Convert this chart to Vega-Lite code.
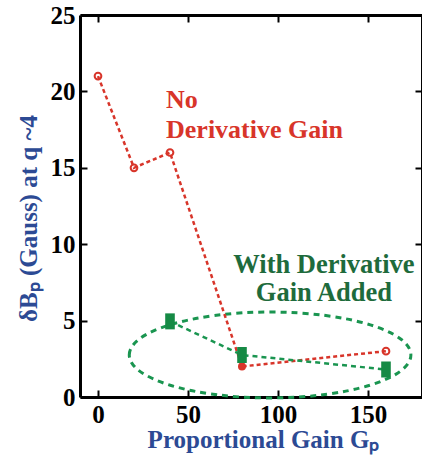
{
  "$schema": "https://vega.github.io/schema/vega-lite/v6.json",
  "width": 342,
  "height": 382,
  "autosize": "none",
  "padding": {"left": 80, "top": 15, "right": 0, "bottom": 64},
  "background": "white",
  "config": {
    "view": {"stroke": null},
    "axis": {
      "labelFont": "Liberation Serif",
      "labelFontWeight": "bold",
      "labelFontSize": 25,
      "labelColor": "black",
      "domainColor": "black",
      "domainWidth": 3,
      "tickColor": "black",
      "tickWidth": 2,
      "tickSize": -7,
      "labelPadding": 12,
      "grid": false,
      "titleFont": "Liberation Serif",
      "titleFontWeight": "bold",
      "titleFontSize": 25,
      "titleColor": "#2c4a94"
    }
  },
  "datasets": {
    "series": [
      {"gain": 0, "db": 21, "series": "No Derivative Gain"},
      {"gain": 20, "db": 15, "series": "No Derivative Gain"},
      {"gain": 40, "db": 16, "series": "No Derivative Gain"},
      {"gain": 80, "db": 2, "series": "No Derivative Gain"},
      {"gain": 160, "db": 3, "series": "No Derivative Gain"},
      {"gain": 40, "db": 4.95, "series": "With Derivative Gain Added"},
      {"gain": 80, "db": 2.75, "series": "With Derivative Gain Added"},
      {"gain": 160, "db": 1.8, "series": "With Derivative Gain Added"}
    ],
    "labels": [
      {"x": 37.8, "y": 18.9, "lines": ["No", "Derivative Gain"], "group": "red"},
      {"x": 125.5, "y": 8.1, "lines": ["With Derivative", "Gain Added"], "group": "green"}
    ],
    "ellipse": [{"x": 95.6, "y": 2.75}]
  },
  "resolve": {"axis": {"x": "independent", "y": "independent"}},
  "layer": [
    {
      "data": {"name": "ellipse"},
      "mark": {
        "type": "point",
        "shape": "M-1,0C-1,-0.168,-0.552,-0.305,0,-0.305C0.552,-0.305,1,-0.168,1,0C1,0.168,0.552,0.305,0,0.305C-0.552,0.305,-1,0.168,-1,0Z",
        "size": 79300,
        "filled": false,
        "stroke": "#1a9550",
        "strokeWidth": 3,
        "strokeDash": [6, 5],
        "opacity": 1
      },
      "encoding": {
        "x": {"field": "x", "type": "quantitative", "scale": {"domain": [-10, 180], "nice": false},
          "axis": {"orient": "top", "labels": false, "title": null, "values": [0, 50, 100, 150]}},
        "y": {"field": "y", "type": "quantitative", "scale": {"domain": [0, 25], "nice": false},
          "axis": {"orient": "right", "labels": false, "title": null, "values": [0, 5, 10, 15, 20, 25]}}
      }
    },
    {
      "data": {"name": "series"},
      "transform": [{"filter": "datum.series == 'No Derivative Gain'"}],
      "mark": {"type": "line", "color": "#d8352a", "strokeWidth": 2.5, "strokeDash": [4, 3]},
      "encoding": {
        "x": {"field": "gain", "type": "quantitative", "scale": {"domain": [-10, 180], "nice": false},
          "axis": {"values": [0, 50, 100, 150], "title": "Proportional Gain Gₚ", "titleX": 183, "titleY": 50, "titleBaseline": "alphabetic", "titleAlign": "center"}},
        "y": {"field": "db", "type": "quantitative", "scale": {"domain": [0, 25], "nice": false},
          "axis": {"values": [0, 5, 10, 15, 20, 25], "title": "δBₚ (Gauss) at q ~4", "titleX": -44, "titleY": 203, "titleBaseline": "alphabetic", "titleAlign": "center", "titleAngle": -90}},
        "order": {"field": "gain"}
      }
    },
    {
      "data": {"name": "series"},
      "transform": [{"filter": "datum.series == 'With Derivative Gain Added'"}],
      "mark": {"type": "line", "color": "#1a9550", "strokeWidth": 2.5, "strokeDash": [5, 4]},
      "encoding": {
        "x": {"field": "gain", "type": "quantitative", "axis": null},
        "y": {"field": "db", "type": "quantitative", "axis": null},
        "order": {"field": "gain"}
      }
    },
    {
      "data": {"name": "series"},
      "transform": [{"filter": "datum.series == 'No Derivative Gain' && datum.gain != 80"}],
      "mark": {"type": "point", "shape": "circle", "filled": false, "size": 45, "stroke": "#d8352a", "strokeWidth": 2, "opacity": 1},
      "encoding": {
        "x": {"field": "gain", "type": "quantitative", "axis": null},
        "y": {"field": "db", "type": "quantitative", "axis": null}
      }
    },
    {
      "data": {"name": "series"},
      "transform": [{"filter": "datum.series == 'No Derivative Gain' && datum.gain == 80"}],
      "mark": {"type": "point", "shape": "circle", "filled": true, "size": 64, "color": "#d8352a", "opacity": 1},
      "encoding": {
        "x": {"field": "gain", "type": "quantitative", "axis": null},
        "y": {"field": "db", "type": "quantitative", "axis": null}
      }
    },
    {
      "data": {"name": "series"},
      "transform": [{"filter": "datum.series == 'With Derivative Gain Added'"}],
      "mark": {"type": "point", "shape": "M-0.6,-1L0.6,-1L0.6,1L-0.6,1Z", "filled": true, "size": 256, "color": "#168a45", "opacity": 1},
      "encoding": {
        "x": {"field": "gain", "type": "quantitative", "axis": null},
        "y": {"field": "db", "type": "quantitative", "axis": null}
      }
    },
    {
      "data": {"name": "labels"},
      "transform": [{"filter": "datum.group == 'red'"}],
      "mark": {"type": "text", "font": "Liberation Serif", "fontWeight": "bold", "fontSize": 26, "align": "left", "baseline": "alphabetic", "lineHeight": 30, "color": "#d8352a"},
      "encoding": {
        "x": {"field": "x", "type": "quantitative", "axis": null},
        "y": {"field": "y", "type": "quantitative", "axis": null},
        "text": {"field": "lines"}
      }
    },
    {
      "data": {"name": "labels"},
      "transform": [{"filter": "datum.group == 'green'"}],
      "mark": {"type": "text", "font": "Liberation Serif", "fontWeight": "bold", "fontSize": 26.5, "align": "center", "baseline": "alphabetic", "lineHeight": 28, "color": "#1e6b3c"},
      "encoding": {
        "x": {"field": "x", "type": "quantitative", "axis": null},
        "y": {"field": "y", "type": "quantitative", "axis": null},
        "text": {"field": "lines"}
      }
    }
  ]
}
